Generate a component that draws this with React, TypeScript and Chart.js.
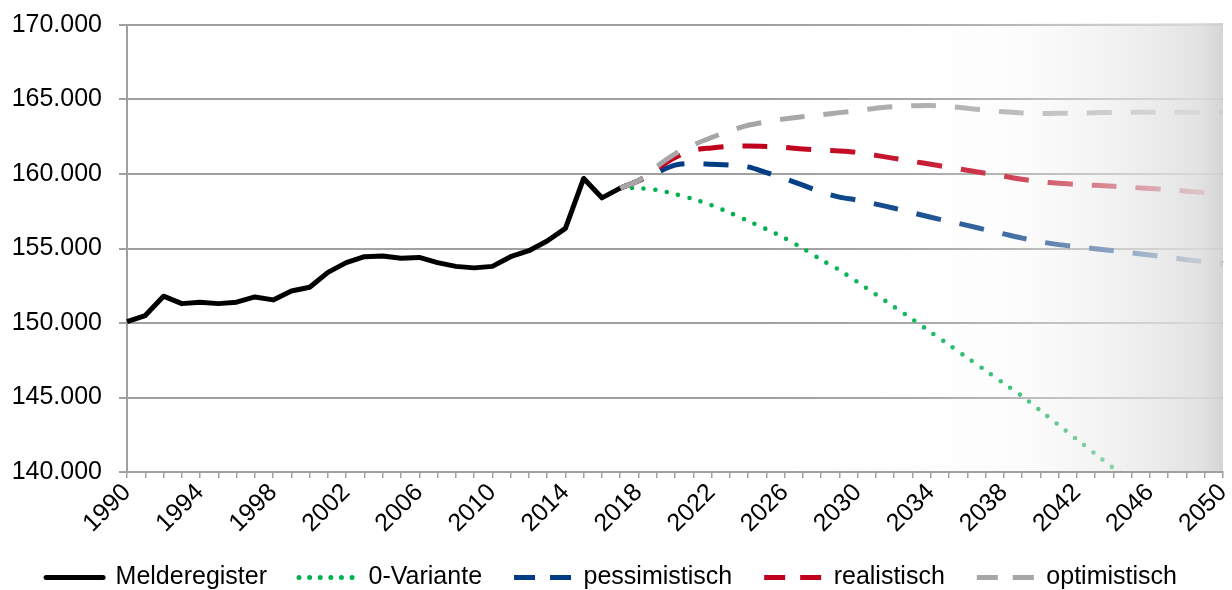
import React, { useEffect, useRef } from "react";
import { Chart, registerables } from "chart.js";

Chart.register(...registerables);

// Categories: years 1990..2050
const years: string[] = Array.from({ length: 61 }, (_, i) => String(1990 + i));

// Melderegister 1990..2017
const melderegister = [
  150100, 150500, 151800, 151300, 151400, 151300, 151400, 151750, 151550, 152150,
  152400, 153400, 154050, 154450, 154500, 154350, 154400, 154050, 153800, 153700,
  153800, 154450, 154850, 155500, 156350, 159700, 158400, 159050,
];

// Projections start in 2017
const projStart = 2017;

// 0-Variante 2017..2045
const nullVariante = [
  159050, 159050, 158930, 158650, 158320, 157900, 157400, 156850, 156300, 155700,
  155000, 154250, 153550, 152740, 151910, 151080, 150250, 149390, 148530, 147670,
  146810, 145950, 145090, 144120, 143150, 142190, 141220, 140260, 139290,
];

// pessimistisch 2017..2050
const pessimistisch = [
  159050, 159550, 160100, 160600, 160700, 160650, 160600, 160480, 160100, 159700,
  159250, 158800, 158450, 158250, 157980, 157700, 157400, 157100, 156820, 156550,
  156260, 155980, 155700, 155450, 155260, 155120, 154990, 154850, 154700, 154560,
  154400, 154250, 154120, 154000,
];

// realistisch 2017..2050
const realistisch = [
  159050, 159550, 160350, 161100, 161600, 161750, 161850, 161880, 161850, 161780,
  161680, 161600, 161550, 161450, 161250, 161050, 160850, 160650, 160450, 160250,
  160050, 159850, 159650, 159480, 159380, 159300, 159240, 159170, 159100, 159030,
  158950, 158850, 158750, 158650,
];

// optimistisch 2017..2050
const optimistisch = [
  159050, 159550, 160500, 161350, 161950, 162450, 162900, 163270, 163500, 163700,
  163850, 163980, 164120, 164250, 164420, 164520, 164580, 164600, 164530, 164420,
  164280, 164170, 164100, 164070, 164070, 164090, 164110, 164130, 164140, 164150,
  164150, 164150, 164150, 164150,
];

const yTicks = [140000, 145000, 150000, 155000, 160000, 165000, 170000];

const FONT = "'Liberation Sans', Arial, Helvetica, sans-serif";
const GRID = "#a0a0a0";

function alignFrom(startYear: number, arr: number[]): (number | null)[] {
  return years.map((y) => {
    const i = Number(y) - startYear;
    return i >= 0 && i < arr.length ? arr[i] : null;
  });
}

const fadePlugin = {
  id: "fadeOverlay",
  afterDatasetsDraw(chart: any) {
    const { ctx, chartArea } = chart;
    const { left, right, top, bottom } = chartArea;
    const g = ctx.createLinearGradient(left, 0, right, 0);
    g.addColorStop(0, "rgba(255,255,255,0)");
    g.addColorStop(0.58, "rgba(255,255,255,0)");
    g.addColorStop(0.72, "rgba(252,252,252,0.1)");
    g.addColorStop(0.806, "rgba(245,245,245,0.27)");
    g.addColorStop(0.888, "rgba(235,235,235,0.56)");
    g.addColorStop(0.977, "rgba(223,223,223,0.88)");
    g.addColorStop(1, "rgba(210,210,210,0.93)");
    ctx.save();
    ctx.fillStyle = g;
    ctx.fillRect(left + 1, top - 2, right - left - 1, bottom - top + 1);
    ctx.restore();
  },
};

export default function App() {
  const ref = useRef<HTMLCanvasElement | null>(null);

  useEffect(() => {
    if (!ref.current) return;
    const dash = [25, 19];
    const chart = new Chart(ref.current, {
      type: "line",
      data: {
        labels: years,
        datasets: [
          {
            label: "Melderegister",
            data: alignFrom(1990, melderegister),
            borderColor: "#000000",
            backgroundColor: "#000000",
            borderWidth: 5,
            borderJoinStyle: "round",
            pointRadius: 0,
            tension: 0,
            order: 0,
          },
          {
            label: "0-Variante",
            data: alignFrom(projStart, nullVariante),
            borderColor: "#00b050",
            backgroundColor: "#00b050",
            borderWidth: 4.6,
            borderDash: [0, 11.7],
            borderCapStyle: "round",
            pointRadius: 0,
            tension: 0.3,
            order: 4,
          },
          {
            label: "pessimistisch",
            data: alignFrom(projStart, pessimistisch),
            borderColor: "#003d84",
            backgroundColor: "#003d84",
            borderWidth: 5,
            borderDash: dash,
            pointRadius: 0,
            tension: 0.3,
            order: 3,
          },
          {
            label: "realistisch",
            data: alignFrom(projStart, realistisch),
            borderColor: "#c0001c",
            backgroundColor: "#c0001c",
            borderWidth: 5,
            borderDash: dash,
            pointRadius: 0,
            tension: 0.3,
            order: 2,
          },
          {
            label: "optimistisch",
            data: alignFrom(projStart, optimistisch),
            borderColor: "#a6a6a6",
            backgroundColor: "#a6a6a6",
            borderWidth: 5,
            borderDash: dash,
            pointRadius: 0,
            tension: 0.3,
            order: 1,
          },
        ],
      },
      options: {
        animation: false,
        responsive: false,
        maintainAspectRatio: false,
        layout: { padding: { top: 25, right: 9, left: 0, bottom: 0 } },
        plugins: {
          tooltip: { enabled: false },
          legend: {
            position: "bottom",
            labels: {
              usePointStyle: true,
              pointStyleWidth: 57,
              boxHeight: 10,
              padding: 32,
              color: "#000",
              font: { family: FONT, size: 25 },
              sort: (a: any, b: any) => a.datasetIndex - b.datasetIndex,
              generateLabels: (c: any) =>
                c.data.datasets.map((ds: any, i: number) => ({
                  text: ds.label,
                  datasetIndex: i,
                  fillStyle: ds.borderColor,
                  strokeStyle: ds.borderColor,
                  lineWidth: 5,
                  lineDash: i === 0 ? [] : i === 1 ? [0, 10.6] : [21, 15],
                  lineCap: i === 0 || i === 1 ? "round" : "butt",
                  pointStyle: "line",
                  hidden: false,
                  fontColor: "#000",
                })),
            },
          },
        },
        scales: {
          x: {
            type: "category",
            offset: false,
            grid: {
              display: true,
              drawOnChartArea: false,
              drawTicks: true,
              tickLength: 6,
              color: GRID,
              lineWidth: 1.5,
            },
            border: { display: true, color: GRID, width: 2 },
            ticks: {
              autoSkip: false,
              minRotation: 45,
              maxRotation: 45,
              padding: 0,
              color: "#000",
              font: { family: FONT, size: 25 },
              callback: function (this: any, value: any, index: number) {
                return index % 4 === 0 ? years[index] : "";
              },
            },
            afterFit: (scale: any) => {
              scale.height = 61;
              scale.paddingLeft = 0;
              scale.paddingRight = 0;
            },
          },
          y: {
            min: 140000,
            max: 170000,
            afterBuildTicks: (scale: any) => {
              scale.ticks = yTicks.map((v) => ({ value: v }));
            },
            grid: {
              color: GRID,
              lineWidth: 2,
              tickLength: 8,
              drawTicks: true,
            },
            border: { display: true, color: GRID, width: 2 },
            ticks: {
              padding: 17,
              color: "#000",
              font: { family: FONT, size: 25 },
              callback: (v: any) =>
                Number(v).toLocaleString("de-DE", { minimumFractionDigits: 3 }).replace(/,000$/, ""),
            },
            afterFit: (scale: any) => {
              scale.width = 127;
              scale.paddingTop = 0;
              scale.paddingBottom = 0;
            },
          },
        },
      },
      plugins: [fadePlugin],
    });
    return () => chart.destroy();
  }, []);

  return (
    <div style={{ position: "fixed", left: 0, top: 0, width: 1232, height: 590, overflow: "hidden", background: "#fff" }}>
      <canvas ref={ref} width={1232} height={600} style={{ width: 1232, height: 600, display: "block" }} />
    </div>
  );
}
